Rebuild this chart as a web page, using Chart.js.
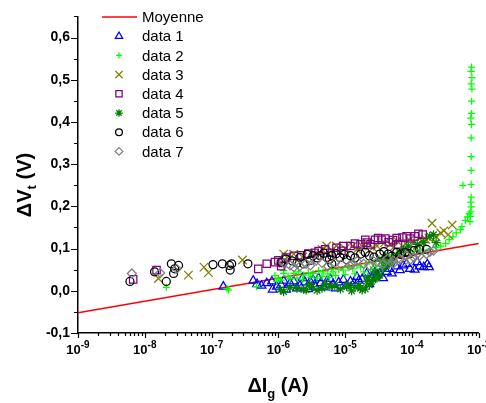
<!DOCTYPE html>
<html>
<head>
<meta charset="utf-8">
<script src="https://cdn.jsdelivr.net/npm/chart.js@4.4.0/dist/chart.umd.min.js"></script>
<style>
  html, body { margin: 0; padding: 0; background: #fff; }
  #wrap { width: 486px; height: 403px; }
</style>
</head>
<body>
<div id="wrap"><canvas id="chart"></canvas></div>
<script>
// axis ranges and tick values
const xMin = 1e-9, xMax = 1e-3;
const yMin = -0.1, yMax = 0.65;
const xTickVals = [1e-9, 1e-8, 1e-7, 1e-6, 1e-5, 1e-4, 1e-3];
const yTickVals = [-0.1, 0, 0.1, 0.2, 0.3, 0.4, 0.5, 0.6];

// series, [dIg (A), dVt (V)]
const moyenne = [[1e-9, -0.052], [1e-3, 0.112]];
const data1 = [[1.5e-7,0.010],[4.2e-7,0.024],[4.8e-7,0.016],[5.6e-7,0.012],[6.7e-7,0.018],[8.0e-7,0.022],[8.2e-7,0.003],[9.5e-7,0.010],[1.1e-6,0.014],[1.2e-6,0.024],[1.3e-6,0.003],[1.5e-6,0.018],[1.7e-6,0.022],[1.9e-6,0.006],[2.1e-6,0.012],[2.3e-6,0.030],[2.5e-6,0.020],[2.8e-6,0.004],[3.0e-6,0.022],[3.3e-6,0.026],[3.6e-6,0.010],[4.0e-6,0.030],[4.3e-6,0.018],[4.8e-6,0.008],[5.3e-6,0.022],[6.0e-6,0.028],[6.5e-6,0.014],[7.2e-6,0.006],[8.0e-6,0.020],[9.4e-6,0.026],[1.05e-5,0.012],[1.2e-5,0.022],[1.35e-5,0.018],[1.5e-5,0.033],[1.6e-5,0.024],[1.8e-5,0.028],[2.1e-5,0.041],[2.3e-5,0.016],[2.5e-5,0.030],[2.8e-5,0.044],[3.0e-5,0.037],[3.3e-5,0.041],[3.7e-5,0.030],[4.2e-5,0.045],[4.6e-5,0.052],[5.0e-5,0.041],[5.8e-5,0.058],[6.6e-5,0.049],[7.4e-5,0.060],[8.3e-5,0.064],[9.3e-5,0.052],[1.1e-4,0.050],[1.2e-4,0.068],[1.3e-4,0.058],[1.5e-4,0.056],[1.7e-4,0.063],[1.8e-4,0.056]];
const data2 = [[2.1e-8,0.008],[1.7e-7,0.005],[1.8e-7,0.002],[4.7e-7,0.010],[8.9e-7,0.036],[9.4e-7,0.022],[1.0e-6,0.030],[1.1e-6,0.025],[1.2e-6,0.041],[1.2e-6,0.048],[1.4e-6,0.035],[1.5e-6,0.028],[1.7e-6,0.041],[1.9e-6,0.030],[2.0e-6,0.045],[2.3e-6,0.026],[2.4e-6,0.037],[2.8e-6,0.043],[3.0e-6,0.032],[3.3e-6,0.041],[3.8e-6,0.030],[4.0e-6,0.048],[4.5e-6,0.034],[4.7e-6,0.045],[5.5e-6,0.040],[5.8e-6,0.031],[6.2e-6,0.052],[6.6e-6,0.045],[7.2e-6,0.036],[8.0e-6,0.050],[9.4e-6,0.049],[1.0e-5,0.038],[1.1e-5,0.055],[1.3e-5,0.052],[1.4e-5,0.040],[1.5e-5,0.060],[1.7e-5,0.056],[1.9e-5,0.045],[2.1e-5,0.064],[2.4e-5,0.050],[2.6e-5,0.068],[2.9e-5,0.058],[3.3e-5,0.075],[3.7e-5,0.066],[4.2e-5,0.083],[4.5e-5,0.072],[5.0e-5,0.085],[6.0e-5,0.088],[7.5e-5,0.090],[9.0e-5,0.092],[1.1e-4,0.094],[1.3e-4,0.095],[1.5e-4,0.096],[1.85e-4,0.098],[2.3e-4,0.102],[2.7e-4,0.106],[3.2e-4,0.112],[3.6e-4,0.121],[4.1e-4,0.128],[4.6e-4,0.137],[5.3e-4,0.145],[5.6e-4,0.152],[6.3e-4,0.167],[6.8e-4,0.175],[7.2e-4,0.183],[7.4e-4,0.164],[7.5e-4,0.176],[7.6e-4,0.187],[7.7e-4,0.199],[7.6e-4,0.210],[7.7e-4,0.222],[5.8e-4,0.250],[7.7e-4,0.252],[7.7e-4,0.285],[7.7e-4,0.318],[7.7e-4,0.362],[7.8e-4,0.394],[7.6e-4,0.409],[7.8e-4,0.420],[7.8e-4,0.449],[7.9e-4,0.478],[7.7e-4,0.490],[7.9e-4,0.505],[7.7e-4,0.520],[7.8e-4,0.530]];
const data3 = [[1.6e-8,0.029],[4.5e-8,0.037],[7.7e-8,0.056],[9.0e-8,0.043],[2.9e-7,0.073],[1.2e-6,0.087],[1.4e-6,0.082],[1.7e-6,0.087],[2.3e-6,0.080],[3.5e-6,0.088],[4.5e-6,0.098],[5.3e-6,0.106],[6.3e-6,0.096],[7.4e-6,0.106],[1.0e-5,0.100],[1.3e-5,0.106],[1.5e-5,0.098],[1.8e-5,0.106],[2.2e-5,0.112],[2.6e-5,0.102],[3.0e-5,0.106],[3.9e-5,0.114],[4.7e-5,0.110],[5.4e-5,0.104],[6.0e-5,0.118],[8.0e-5,0.112],[9.2e-5,0.120],[1.07e-4,0.114],[1.2e-4,0.108],[1.4e-4,0.118],[1.6e-4,0.122],[1.8e-4,0.125],[2.0e-4,0.160],[2.3e-4,0.128],[2.7e-4,0.137],[3.0e-4,0.142],[3.5e-4,0.133],[4.0e-4,0.156]];
const data4 = [[6.7e-9,0.027],[1.5e-8,0.049],[5.0e-7,0.052],[6.7e-7,0.064],[8.9e-7,0.068],[1.0e-6,0.072],[1.1e-6,0.058],[1.15e-6,0.066],[1.3e-6,0.079],[1.7e-6,0.083],[2.2e-6,0.084],[2.8e-6,0.088],[3.5e-6,0.090],[4.0e-6,0.094],[5.0e-6,0.098],[6.0e-6,0.090],[7.4e-6,0.102],[8.8e-6,0.095],[9.4e-6,0.106],[1.2e-5,0.106],[1.4e-5,0.112],[1.7e-5,0.110],[2.0e-5,0.121],[2.1e-5,0.114],[2.4e-5,0.110],[2.8e-5,0.121],[3.1e-5,0.125],[3.5e-5,0.121],[4.0e-5,0.124],[4.5e-5,0.115],[5.2e-5,0.120],[5.9e-5,0.125],[6.2e-5,0.110],[7.2e-5,0.126],[8.3e-5,0.129],[9.5e-5,0.124],[1.1e-4,0.129],[1.25e-4,0.135],[1.45e-4,0.133]];
const data5 = [[1.07e-6,0.003],[1.2e-6,-0.002],[1.5e-6,0.008],[1.9e-6,0.006],[2.4e-6,0.003],[2.6e-6,0.002],[2.9e-6,0.015],[3.2e-6,0.010],[3.8e-6,0.001],[4.5e-6,0.006],[5.0e-6,0.016],[5.9e-6,0.010],[7.0e-6,0.012],[8.5e-6,0.004],[1.05e-5,0.010],[1.1e-5,0.014],[1.25e-5,0.000],[1.4e-5,0.008],[1.6e-5,0.012],[1.7e-5,0.006],[1.8e-5,0.002],[2.0e-5,0.004],[2.1e-5,0.022],[2.2e-5,0.032],[2.3e-5,0.014],[2.5e-5,0.022],[2.6e-5,0.026],[2.8e-5,0.045],[3.0e-5,0.030],[3.3e-5,0.037],[3.5e-5,0.070],[3.7e-5,0.052],[4.0e-5,0.080],[4.2e-5,0.060],[4.6e-5,0.066],[5.2e-5,0.075],[6.6e-5,0.091],[7.5e-5,0.098],[8.8e-5,0.106],[1.2e-4,0.110],[1.5e-4,0.114],[1.85e-4,0.129],[2.1e-4,0.133],[2.3e-4,0.114]];
const data6 = [[6.0e-9,0.022],[1.4e-8,0.045],[2.1e-8,0.022],[2.5e-8,0.064],[2.7e-8,0.041],[2.8e-8,0.052],[3.2e-8,0.060],[1.05e-7,0.062],[1.45e-7,0.064],[1.85e-7,0.060],[2.0e-7,0.064],[1.9e-7,0.049],[3.5e-7,0.064],[1.1e-6,0.068],[1.3e-6,0.075],[1.6e-6,0.071],[1.9e-6,0.066],[2.1e-6,0.079],[2.4e-6,0.064],[2.7e-6,0.086],[3.0e-6,0.072],[3.3e-6,0.083],[3.8e-6,0.078],[4.2e-6,0.083],[4.8e-6,0.089],[5.3e-6,0.079],[5.8e-6,0.074],[6.3e-6,0.083],[6.3e-6,0.064],[7.3e-6,0.088],[8.4e-6,0.079],[9.6e-6,0.086],[1.05e-5,0.074],[1.2e-5,0.083],[1.4e-5,0.078],[1.7e-5,0.087],[2.0e-5,0.091],[2.3e-5,0.083],[2.7e-5,0.080],[3.3e-5,0.087],[3.8e-5,0.093],[4.4e-5,0.087],[5.0e-5,0.082],[5.9e-5,0.091],[6.8e-5,0.086],[7.9e-5,0.091],[9.2e-5,0.088],[1.07e-4,0.095],[1.3e-4,0.098],[1.65e-4,0.098]];
const data7 = [[6.4e-9,0.041],[1.7e-8,0.042],[3.0e-8,0.052],[1.2e-6,0.066],[1.5e-6,0.060],[1.7e-6,0.056],[2.1e-6,0.058],[2.6e-6,0.064],[3.0e-6,0.060],[3.7e-6,0.072],[4.5e-6,0.066],[5.5e-6,0.058],[7.0e-6,0.066],[8.8e-6,0.062],[1.17e-5,0.060],[1.3e-5,0.064],[1.5e-5,0.070],[1.9e-5,0.064],[2.3e-5,0.060],[2.6e-5,0.072],[3.0e-5,0.068],[3.6e-5,0.062],[4.3e-5,0.076],[5.2e-5,0.072],[5.2e-5,0.064],[6.6e-5,0.075],[7.5e-5,0.068],[8.3e-5,0.083],[9.5e-5,0.074],[1.07e-4,0.079],[1.2e-4,0.088],[1.3e-4,0.083],[1.65e-4,0.087],[1.85e-4,0.092],[2.1e-4,0.095]];

const FONT = 'Arial, "Liberation Sans", sans-serif';

function pts(list) {
  return list.map(p => ({x: p[0], y: p[1]}));
}

function scatterSet(label, list, style, color, radius, order) {
  return {
    label: label,
    data: pts(list),
    pointStyle: style,
    pointRadius: radius,
    pointBorderColor: color,
    borderColor: color,
    pointBackgroundColor: 'rgba(0,0,0,0)',
    backgroundColor: 'rgba(0,0,0,0)',
    pointBorderWidth: 1.25,
    showLine: false,
    order: order
  };
}

const datasets = [
  {label: 'Moyenne', data: pts(moyenne), showLine: true, borderColor: '#ff0000', borderWidth: 1.6, pointRadius: 0, order: 9},
  scatterSet('data 1', data1, 'triangle', '#0000ff', 5, 7),
  scatterSet('data 2', data2, 'cross', '#00ff00', 3.6, 6),
  scatterSet('data 3', data3, 'crossRot', '#808000', 6, 5),
  scatterSet('data 4', data4, 'rect', '#800080', 5.2, 4),
  scatterSet('data 5', data5, 'star', '#008000', 4.5, 3),
  scatterSet('data 6', data6, 'circle', '#000000', 4, 2),
  scatterSet('data 7', data7, 'rectRot', '#808080', 4.5, 1)
];

// draw text made of pieces (normal / sub / sup), centred on x
function richWidth(ctx, parts) {
  let w = 0;
  parts.forEach(p => { ctx.font = p.font; w += ctx.measureText(p.t).width; });
  return w;
}
function drawRich(ctx, parts, x, y) {
  let cx = x - richWidth(ctx, parts) / 2;
  parts.forEach(p => {
    ctx.font = p.font;
    ctx.fillText(p.t, cx, y + (p.dy || 0));
    cx += ctx.measureText(p.t).width;
  });
}

const decor = {
  id: 'decor',
  afterDraw(chart) {
    const ctx = chart.ctx, xs = chart.scales.x, ys = chart.scales.y, a = chart.chartArea;
    ctx.save();

    // ticks
    ctx.strokeStyle = '#000';
    ctx.lineWidth = 1.2;
    ctx.beginPath();
    xTickVals.forEach((v, i) => {
      const px = Math.round(xs.getPixelForValue(v)) + 0.5;
      ctx.moveTo(px, a.bottom); ctx.lineTo(px, a.bottom + 5);
      if (i < xTickVals.length - 1) {
        for (let k = 2; k < 10; k++) {
          const m = Math.round(xs.getPixelForValue(v * k)) + 0.5;
          ctx.moveTo(m, a.bottom); ctx.lineTo(m, a.bottom + 3);
        }
      }
    });
    yTickVals.forEach(v => {
      const py = Math.round(ys.getPixelForValue(v)) + 0.5;
      ctx.moveTo(a.left - 7, py); ctx.lineTo(a.left, py);
      const mv = v + 0.05;
      if (mv <= yMax + 1e-9) {
        const pm = Math.round(ys.getPixelForValue(mv)) + 0.5;
        ctx.moveTo(a.left - 4, pm); ctx.lineTo(a.left, pm);
      }
    });
    ctx.stroke();

    // x tick labels 10^n
    ctx.fillStyle = '#000';
    ctx.textBaseline = 'alphabetic';
    ctx.textAlign = 'left';
    xTickVals.forEach(v => {
      const e = Math.round(Math.log10(v));
      drawRich(ctx, [
        {t: '10', font: 'bold 13px ' + FONT},
        {t: String(e), font: 'bold 10px ' + FONT, dy: -6}
      ], xs.getPixelForValue(v), 354);
    });

    // axis titles
    drawRich(ctx, [
      {t: '\u0394I', font: 'bold 20px ' + FONT},
      {t: 'g', font: 'bold 13px ' + FONT, dy: 6},
      {t: ' (A)', font: 'bold 20px ' + FONT}
    ], 278, 392);

    ctx.save();
    ctx.translate(31, 185);
    ctx.rotate(-Math.PI / 2);
    drawRich(ctx, [
      {t: '\u0394V', font: 'bold 20px ' + FONT},
      {t: 't', font: 'bold 13px ' + FONT, dy: 5},
      {t: ' (V)', font: 'bold 20px ' + FONT}
    ], 0, 0);
    ctx.restore();

    // legend
    const symX = 119, textX = 142, rowY = 17, step = 19.2;
    chart.data.datasets.forEach((ds, i) => {
      const y = rowY + i * step;
      if (ds.showLine) {
        ctx.strokeStyle = ds.borderColor;
        ctx.lineWidth = ds.borderWidth;
        ctx.beginPath();
        ctx.moveTo(102, y); ctx.lineTo(137, y);
        ctx.stroke();
      } else {
        ctx.strokeStyle = ds.pointBorderColor;
        ctx.fillStyle = 'rgba(0,0,0,0)';
        ctx.lineWidth = ds.pointBorderWidth;
        Chart.helpers.drawPoint(ctx, {
          pointStyle: ds.pointStyle,
          radius: ds.pointRadius * 0.85,
          rotation: 0,
          borderWidth: ds.pointBorderWidth
        }, symX, y);
      }
      ctx.fillStyle = '#000';
      ctx.font = '15px ' + FONT;
      ctx.textBaseline = 'middle';
      ctx.fillText(ds.label, textX, y + 1);
    });
    ctx.restore();
  }
};

new Chart(document.getElementById('chart'), {
  type: 'scatter',
  data: {datasets: datasets},
  options: {
    responsive: true,
    maintainAspectRatio: false,
    animation: false,
    devicePixelRatio: 1,
    layout: {padding: {top: 7, right: 7, left: 0, bottom: 0}},
    plugins: {legend: {display: false}, tooltip: {enabled: false}},
    scales: {
      x: {
        type: 'logarithmic',
        min: xMin,
        max: xMax,
        afterBuildTicks: s => { s.ticks = xTickVals.map(v => ({value: v})); },
        afterFit: s => { s.height = 70; },
        grid: {display: false, drawTicks: false},
        border: {display: true, color: '#000', width: 1.5},
        ticks: {display: false}
      },
      y: {
        type: 'linear',
        min: yMin,
        max: yMax,
        afterBuildTicks: s => { s.ticks = yTickVals.map(v => ({value: v})); },
        afterFit: s => { s.width = 78; },
        grid: {display: false, drawTicks: false},
        border: {display: true, color: '#000', width: 1.5},
        ticks: {
          autoSkip: false,
          padding: 8,
          color: '#000',
          font: {family: FONT, size: 14, weight: 'bold'},
          callback: v => Number(v).toFixed(1).replace('.', ',')
        }
      }
    }
  },
  plugins: [decor]
});
</script>
</body>
</html>
